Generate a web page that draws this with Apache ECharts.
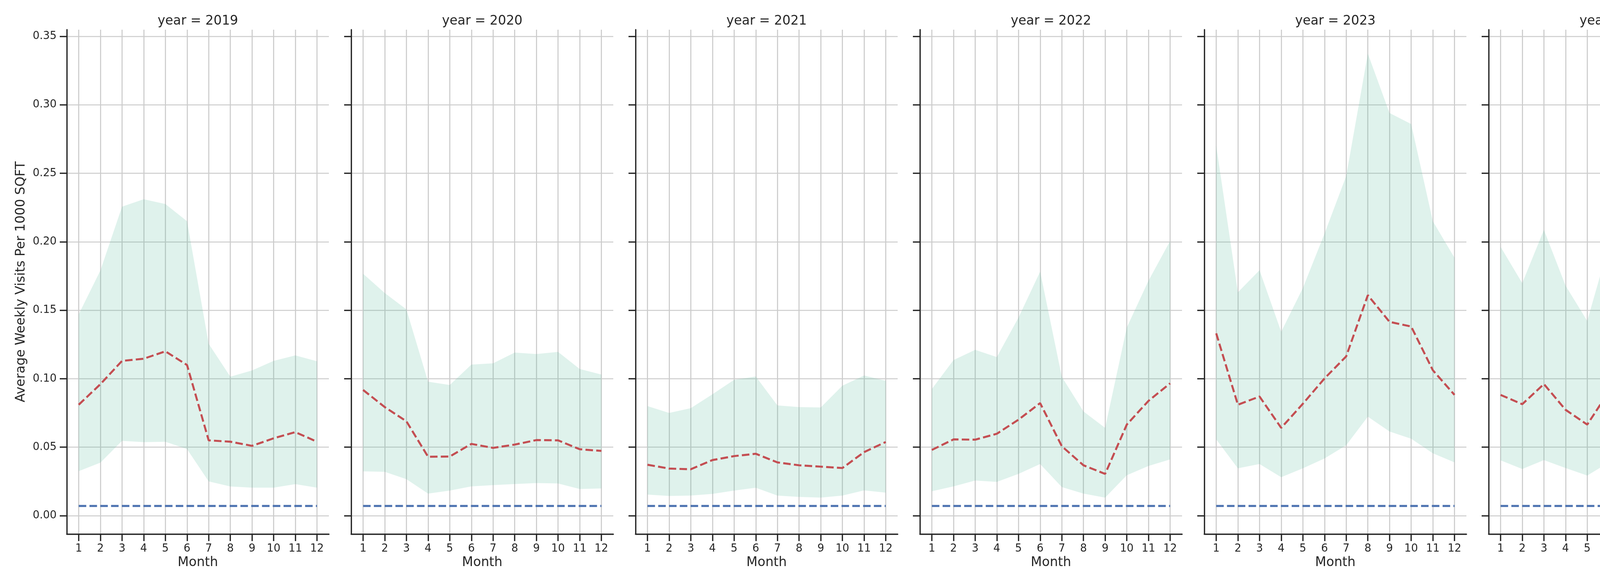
<!DOCTYPE html>
<html>
<head>
<meta charset="utf-8">
<script src="https://cdn.jsdelivr.net/npm/echarts@6/dist/echarts.min.js"></script>
<style>
html,body{margin:0;padding:0;background:#ffffff;overflow:hidden;}
#chart{width:5250px;height:1500px;}
</style>
</head>
<body>
<div id="chart"></div>
<script>
// ---------- data ----------
const years = [2019, 2020, 2021, 2022, 2023, 2024, 2025];
const months = [1, 2, 3, 4, 5, 6, 7, 8, 9, 10, 11, 12];
const months2025 = [1, 2, 3, 4, 5, 6, 7, 8];
const xTicks = [1, 2, 3, 4, 5, 6, 7, 8, 9, 10, 11, 12];
const yTicks = [0, 0.05, 0.10, 0.15, 0.20, 0.25, 0.30, 0.35];

const median2019 = [0.081, 0.096, 0.113, 0.1146, 0.120, 0.110, 0.055, 0.054, 0.051, 0.0565, 0.061, 0.054];
const upper2019  = [0.147, 0.179, 0.2256, 0.231, 0.2275, 0.215, 0.1255, 0.1015, 0.106, 0.113, 0.117, 0.1127];
const lower2019  = [0.0325, 0.0387, 0.0546, 0.0537, 0.054, 0.0486, 0.025, 0.0213, 0.0205, 0.0205, 0.023, 0.0205];
const fp2019     = [0.0071, 0.0071, 0.0071, 0.0071, 0.0071, 0.0071, 0.0071, 0.0071, 0.0071, 0.0071, 0.0071, 0.0071];

const median2020 = [0.0918, 0.0793, 0.0689, 0.043, 0.0432, 0.0524, 0.0495, 0.0519, 0.0552, 0.055, 0.0485, 0.0473];
const upper2020  = [0.1766, 0.1626, 0.1506, 0.0978, 0.0954, 0.1103, 0.1112, 0.1191, 0.118, 0.1196, 0.1071, 0.103];
const lower2020  = [0.0324, 0.032, 0.0267, 0.0161, 0.0183, 0.0214, 0.0223, 0.0231, 0.0238, 0.0235, 0.0195, 0.0199];
const fp2020     = [0.0071, 0.0071, 0.0071, 0.0071, 0.0071, 0.0071, 0.0071, 0.0071, 0.0071, 0.0071, 0.0071, 0.0071];

const median2021 = [0.0372, 0.0344, 0.0339, 0.0406, 0.0435, 0.0452, 0.0389, 0.0368, 0.0358, 0.0348, 0.0464, 0.0538];
const upper2021  = [0.080, 0.075, 0.0785, 0.0886, 0.0992, 0.1016, 0.0805, 0.0793, 0.079, 0.0949, 0.1023, 0.0985];
const lower2021  = [0.0154, 0.0144, 0.0147, 0.0159, 0.0183, 0.0204, 0.0147, 0.0137, 0.0132, 0.0147, 0.0185, 0.0168];
const fp2021     = [0.0071, 0.0071, 0.0071, 0.0071, 0.0071, 0.0071, 0.0071, 0.0071, 0.0071, 0.0071, 0.0071, 0.0071];

const median2022 = [0.048, 0.0557, 0.0555, 0.0598, 0.0701, 0.0822, 0.0507, 0.0368, 0.0305, 0.0665, 0.0838, 0.0966];
const upper2022  = [0.0925, 0.1136, 0.1211, 0.1158, 0.1446, 0.1782, 0.1014, 0.0761, 0.0641, 0.1374, 0.1715, 0.2006];
const lower2022  = [0.0178, 0.0214, 0.0257, 0.0247, 0.0305, 0.0377, 0.0209, 0.0161, 0.0132, 0.0295, 0.0363, 0.0411];
const fp2022     = [0.0071, 0.0071, 0.0071, 0.0071, 0.0071, 0.0071, 0.0071, 0.0071, 0.0071, 0.0071, 0.0071, 0.0071];

const median2023 = [0.1331, 0.081, 0.087, 0.0641, 0.0817, 0.1002, 0.1163, 0.161, 0.1415, 0.1381, 0.1062, 0.0882];
const upper2023  = [0.2702, 0.1631, 0.1792, 0.1343, 0.1662, 0.2059, 0.2479, 0.3373, 0.294, 0.2859, 0.215, 0.1883];
const lower2023  = [0.0557, 0.0346, 0.0377, 0.0281, 0.0346, 0.0418, 0.0514, 0.0723, 0.0615, 0.0562, 0.0456, 0.0389];
const fp2023     = [0.0071, 0.0071, 0.0071, 0.0071, 0.0071, 0.0071, 0.0071, 0.0071, 0.0071, 0.0071, 0.0071, 0.0071];

const median2024 = [0.0882, 0.0814, 0.0961, 0.0773, 0.0665, 0.0906, 0.0706, 0.0747, 0.0754, 0.0894, 0.105, 0.1009];
const upper2024  = [0.1963, 0.1698, 0.2087, 0.1679, 0.1422, 0.1975, 0.1542, 0.1583, 0.1631, 0.1939, 0.2275, 0.2169];
const lower2024  = [0.0404, 0.0341, 0.0406, 0.0348, 0.0293, 0.0389, 0.0315, 0.0334, 0.0336, 0.0389, 0.0466, 0.044];
const fp2024     = [0.0071, 0.0071, 0.0071, 0.0071, 0.0071, 0.0071, 0.0071, 0.0071, 0.0071, 0.0071, 0.0071, 0.0071];

const median2025 = [0.099, 0.0846, 0.0742, 0.054, 0.1015, 0.1288, 0.120, 0.0764];
const upper2025  = [0.2114, 0.1795, 0.1568, 0.1159, 0.2188, 0.2733, 0.2619, 0.1877];
const lower2025  = [0.0431, 0.0368, 0.0327, 0.0237, 0.0442, 0.0565, 0.0524, 0.0355];
const fp2025     = [0.0074, 0.0074, 0.0101, 0.0401, 0.0224, 0.0038, 0.0038, 0.0038];

const panels = [
  { year: 2019, x: months, median: median2019, upper: upper2019, lower: lower2019, fp: fp2019 },
  { year: 2020, x: months, median: median2020, upper: upper2020, lower: lower2020, fp: fp2020 },
  { year: 2021, x: months, median: median2021, upper: upper2021, lower: lower2021, fp: fp2021 },
  { year: 2022, x: months, median: median2022, upper: upper2022, lower: lower2022, fp: fp2022 },
  { year: 2023, x: months, median: median2023, upper: upper2023, lower: lower2023, fp: fp2023 },
  { year: 2024, x: months, median: median2024, upper: upper2024, lower: lower2024, fp: fp2024 },
  { year: 2025, x: months2025, median: median2025, upper: upper2025, lower: lower2025, fp: fp2025 }
];

// ---------- style / layout ----------
const FONT = 'DejaVu Sans';
const INK = '#262626';
const RED = '#c44e52';
const BLUE = '#4c72b0';
const BAND = 'rgba(95,190,160,0.2)';
const GRIDC = '#cccccc';
const LEFT0 = 171, STEP = 728, PW = 671, TOP = 76, PH = 1291;
const DASH = [19.3, 8.3];
const HIDDEN_SYMBOL = { color: 'rgba(0,0,0,0)', borderWidth: 0, opacity: 0 };

const grids = [], xAxes = [], yAxes = [], series = [], graphics = [];

panels.forEach(function (p, i) {
  const left = LEFT0 + STEP * i;
  grids.push({ left: left, top: TOP, width: PW, height: PH, containLabel: false, outerBoundsMode: 'none' });

  xAxes.push({
    gridIndex: i, type: 'value', min: 0.45, max: 12.55,
    axisLine: { show: true, onZero: false, lineStyle: { color: INK, width: 3.3 } },
    axisTick: { show: true, customValues: xTicks, length: 18, lineStyle: { color: INK, width: 3.3 } },
    axisLabel: { show: true, customValues: xTicks, margin: 38, verticalAlign: 'middle',
                 fontSize: 27.5, fontFamily: FONT, color: INK },
    splitLine: { show: true, lineStyle: { color: GRIDC, width: 2.7 } },
    name: 'Month', nameLocation: 'middle', nameGap: 56,
    nameTextStyle: { fontSize: 33, fontFamily: FONT, color: INK }
  });

  yAxes.push({
    gridIndex: i, type: 'value', min: -0.0134, max: 0.3548,
    axisLine: { show: true, onZero: false, lineStyle: { color: INK, width: 3.3 } },
    axisTick: { show: true, customValues: yTicks, length: 18, lineStyle: { color: INK, width: 3.3 } },
    axisLabel: { show: i === 0, customValues: yTicks, margin: 26,
                 formatter: function (v) { return Number(v).toFixed(2); },
                 fontSize: 27.5, fontFamily: FONT, color: INK },
    splitLine: { show: true, lineStyle: { color: GRIDC, width: 2.7 } },
    name: i === 0 ? 'Average Weekly Visits Per 1000 SQFT' : '',
    nameLocation: 'middle', nameGap: 100, nameRotate: 90,
    nameTextStyle: { fontSize: 33, fontFamily: FONT, color: INK }
  });

  series.push({
    type: 'custom', name: '25th-75th Percentile',
    xAxisIndex: i, yAxisIndex: i, z: 1, silent: true,
    itemStyle: { color: BAND },
    encode: { x: 0, y: [1, 2] },
    data: p.x.map(function (m, k) { return [m, p.lower[k], p.upper[k]]; }),
    renderItem: function (params, api) {
      if (params.dataIndexInside !== 0) return null;
      const n = params.dataInsideLength;
      const top = [], bot = [];
      for (let j = 0; j < n; j++) {
        top.push(api.coord([api.value(0, j), api.value(2, j)]));
        bot.push(api.coord([api.value(0, j), api.value(1, j)]));
      }
      return { type: 'polygon', shape: { points: top.concat(bot.reverse()) },
               style: { fill: BAND }, silent: true };
    }
  });

  series.push({
    type: 'line', name: 'Median', xAxisIndex: i, yAxisIndex: i, z: 3,
    symbol: 'none', showSymbol: false, silent: true,
    itemStyle: { color: RED },
    lineStyle: { color: RED, width: 5.2, type: DASH },
    data: p.x.map(function (m, k) { return [m, p.median[k]]; })
  });

  series.push({
    type: 'line', name: 'First Party Median', xAxisIndex: i, yAxisIndex: i, z: 3,
    symbol: 'none', showSymbol: false, silent: true,
    itemStyle: { color: BLUE },
    lineStyle: { color: BLUE, width: 5.2, type: DASH },
    data: p.x.map(function (m, k) { return [m, p.fp[k]]; })
  });

  graphics.push({
    type: 'text', x: left + PW / 2, y: 54, silent: true,
    style: { text: 'year = ' + p.year, fontSize: 33, fontFamily: FONT, fill: INK,
             align: 'center', verticalAlign: 'middle', textAlign: 'center', textVerticalAlign: 'middle' }
  });
});

const chart = echarts.init(document.getElementById('chart'), null, { renderer: 'canvas' });
chart.setOption({
  backgroundColor: '#ffffff',
  animation: false,
  grid: grids,
  xAxis: xAxes,
  yAxis: yAxes,
  series: series,
  graphic: graphics,
  legend: {
    orient: 'vertical', left: 4753, top: 120, align: 'left',
    selectedMode: false,
    data: [
      { name: 'Median', itemStyle: HIDDEN_SYMBOL },
      { name: 'First Party Median', itemStyle: HIDDEN_SYMBOL },
      { name: '25th-75th Percentile', icon: 'rect', itemStyle: { color: BAND } }
    ],
    itemWidth: 66, itemHeight: 23, itemGap: 16,
    padding: [10, 15, 17, 14],
    backgroundColor: 'rgba(255,255,255,0.8)',
    borderColor: 'rgba(204,204,204,0.8)', borderWidth: 2.7, borderRadius: 8,
    lineStyle: { width: 5.2 },
    textStyle: { fontSize: 33, fontFamily: FONT, color: INK, lineHeight: 33, padding: [0, 0, 0, 22] }
  }
});
</script>
</body>
</html>
